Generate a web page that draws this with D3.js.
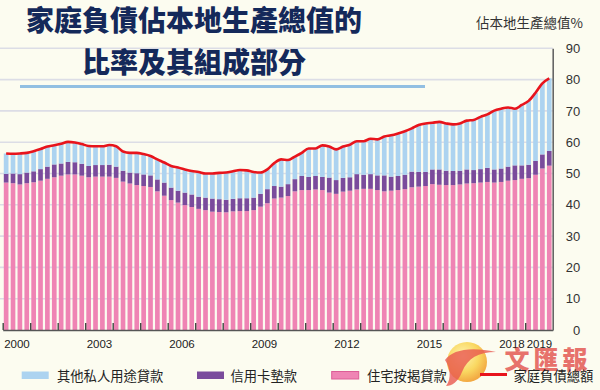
<!DOCTYPE html>
<html><head><meta charset="utf-8">
<script src="https://cdn.jsdelivr.net/npm/d3@7"></script>
<style>
html,body{margin:0;padding:0;background:#fcfcf0;}
svg{display:block;}
text{font-family:"Liberation Sans",Arial,sans-serif;}
.cjk{font-family:"Noto Sans CJK TC","Noto Sans CJK SC",sans-serif;}
</style></head>
<body>
<svg id="c" width="600" height="390"></svg>
<script>
// ---------- data ----------
const years = [2000,2001,2002,2003,2004,2005,2006,2007,2008,2009,2010,2011,2012,2013,2014,2015,2016,2017,2018,2019];
const quarterNames = ["Q1","Q2","Q3","Q4"];
const categories = years.flatMap(yr => quarterNames.map(q => yr + q));

// 住宅按揭貸款 (% of GDP)
const mortgage = [
 47.1,46.9,46.5,46.9, 47.2,47.7,48.3,48.8, 49.3,49.7,49.7,49.3, 48.8,49.0,49.0,49.0, 48.6,47.4,46.8,46.3,
 46.0,45.7,44.3,42.9, 41.5,40.7,39.9,39.3, 38.7,38.3,37.8,37.7, 37.6,37.9,38.0,38.0, 38.3,39.4,40.5,42.0,
 42.3,42.8,44.3,44.7, 44.7,44.9,44.7,43.9, 43.5,44.2,44.5,44.9, 45.1,45.1,44.7,44.3, 44.5,44.7,45.0,45.6,
 45.8,46.0,46.6,46.4, 46.3,46.3,46.5,46.8, 46.9,47.1,47.3,47.1, 47.3,47.7,47.9,48.3, 48.5,49.6,51.6,52.5
];
// 信用卡墊款
const creditCard = [
 2.8,3.1,3.3,3.4, 3.5,3.7,3.9,4.1, 3.9,4.0,3.9,3.8, 3.6,3.7,3.7,3.8, 3.6,3.5,3.5,3.8,
 3.7,3.7,3.8,4.2, 4.0,3.8,4.0,4.0, 3.9,4.0,4.2,4.1, 4.0,4.0,4.1,4.1, 4.0,4.1,4.5,4.0,
 3.5,3.8,3.9,4.5, 4.2,4.3,4.2,4.8, 4.4,4.4,4.3,4.9, 4.5,4.7,4.7,5.1, 4.5,4.5,4.6,5.0,
 4.7,4.5,4.7,4.9, 4.6,4.5,4.4,4.5, 4.2,4.3,4.5,4.2, 4.3,4.5,4.7,4.3, 4.3,4.4,4.5,4.7
];
// 其他私人用途貸款
const otherLoans = [
 6.5,6.3,6.6,6.3, 6.4,6.4,6.4,6.1, 6.3,6.4,6.3,6.3, 6.4,6.0,6.0,6.3, 6.5,6.1,6.3,6.5,
 6.5,6.2,6.4,6.4, 6.9,7.4,7.4,7.5, 7.9,7.7,8.0,8.4, 8.7,8.8,9.0,8.9, 8.2,6.8,6.3,7.3,
 8.7,7.7,7.2,7.4, 9.1,8.8,10.1,9.9, 9.8,10.0,10.4,10.5, 10.7,11.3,11.5,12.4, 13.2,13.6,13.9,13.8,
 15.0,15.5,14.9,15.2, 15.1,14.9,15.1,15.6, 16.0,16.7,17.1,18.8, 19.1,18.9,18.1,19.3, 20.4,21.8,22.7,23.2
];
// 家庭負債總額
const totalDebt = [
 56.4,56.3,56.4,56.6, 57.1,57.8,58.6,59.0, 59.5,60.1,59.9,59.4, 58.8,58.7,58.7,59.1, 58.7,57.0,56.6,56.6,
 56.2,55.6,54.5,53.5, 52.4,51.9,51.3,50.8, 50.5,50.0,50.0,50.2, 50.3,50.7,51.1,51.0, 50.5,50.3,51.3,53.3,
 54.5,54.3,55.4,56.6, 58.0,58.0,59.0,58.6, 57.7,58.6,59.2,60.3, 60.3,61.1,60.9,61.8, 62.2,62.8,63.5,64.4,
 65.5,66.0,66.2,66.5, 66.0,65.7,66.0,66.9, 67.1,68.1,68.9,70.1, 70.7,71.1,70.7,71.9, 73.2,75.8,78.8,80.4
];

const xLabelYears = [2000,2003,2006,2009,2012,2015,2018,2019];
const yTicks = [0,10,20,30,40,50,60,70,80,90];
const titleLines = ["家庭負債佔本地生產總值的","比率及其組成部分"];
const yTitle = "佔本地生產總值%";
const seriesKeys = ["mortgage","card","other"];
const seriesNames = {other:"其他私人用途貸款", card:"信用卡墊款", mortgage:"住宅按揭貸款", total:"家庭負債總額"};
const colors = {other:"#acd3f0", card:"#7a4b9c", mortgage:"#ef84b4", total:"#e8141c"};

// ---------- setup ----------
const svg = d3.select("#c");
const plotLeft = 2.7, plotRight = 552.7, plotTop = 48.3, plotBottom = 330;

const rows = categories.map((c,i) => ({cat:c, mortgage:mortgage[i], card:creditCard[i], other:otherLoans[i], total:totalDebt[i]}));

const x = d3.scaleBand().domain(categories).range([plotLeft,plotRight]).paddingInner(0.32).paddingOuter(0.16);
const xYear = d3.scaleLinear().domain([2000,2020]).range([plotLeft,plotRight]);
const y = d3.scaleLinear().domain([0,90]).range([plotBottom,plotTop]);

// background
svg.append("rect").attr("width",600).attr("height",390).attr("fill","#fcfcf0");

// gridlines
svg.append("g").selectAll("line").data(yTicks.filter(d=>d>0)).join("line")
  .attr("x1",0).attr("x2",plotRight).attr("y1",d=>y(d)).attr("y2",d=>y(d))
  .attr("stroke","#dcdde6").attr("stroke-width",1.6);

// title decorative rule
svg.append("line").attr("x1",20).attr("x2",425).attr("y1",86.5).attr("y2",86.5)
  .attr("stroke","#92bfe2").attr("stroke-width",3);

// title
svg.append("g").selectAll("text").data(titleLines).join("text")
  .attr("class","cjk").attr("x",194).attr("y",(d,i)=>31+i*42)
  .attr("text-anchor","middle").attr("font-size",28).attr("font-weight",900)
  .attr("fill","#14295a").text(d=>d);

// y title
svg.append("text").attr("class","cjk").attr("x",583).attr("y",28).attr("text-anchor","end")
  .attr("font-size",13.5).attr("fill","#333").text(yTitle);

// stacked bars
const stacked = d3.stack().keys(seriesKeys)(rows);
svg.append("g").selectAll("g").data(stacked).join("g")
  .attr("fill",d=>colors[d.key])
  .selectAll("rect").data(d=>d).join("rect")
  .attr("x",d=>x(d.data.cat)).attr("width",x.bandwidth())
  .attr("y",d=>y(d[1])).attr("height",d=>y(d[0])-y(d[1]));

// total line
const line = d3.line().x(d=>x(d.cat)+x.bandwidth()/2).y(d=>y(d.total)).curve(d3.curveMonotoneX);
svg.append("path").datum(rows).attr("d",line).attr("fill","none")
  .attr("stroke",colors.total).attr("stroke-width",2.6).attr("stroke-linejoin","round");

// x axis: baseline + inward year ticks
const xAxisG = svg.append("g").attr("transform",`translate(0,${plotBottom})`)
  .call(d3.axisBottom(xYear).tickValues(years).tickSizeInner(-7).tickSizeOuter(0).tickFormat(""));
xAxisG.select(".domain").attr("stroke","#555").attr("stroke-width",1.6);
xAxisG.selectAll(".tick line").attr("stroke","#3f4a40").attr("stroke-width",1.4);

// x labels centered in year
const xLab = svg.append("g").attr("transform",`translate(0,${plotBottom})`)
  .call(d3.axisBottom(xYear).tickValues(xLabelYears.map(d=>d+0.5)).tickSize(0).tickPadding(10).tickFormat(d=>Math.floor(d)));
xLab.select(".domain").remove();
xLab.selectAll("text").attr("font-size",11.5).attr("fill","#222").attr("font-family","Liberation Sans, Arial, sans-serif");

// y axis on right
const yAxisG = svg.append("g").attr("transform",`translate(${plotRight},0)`)
  .call(d3.axisRight(y).tickValues(yTicks).tickSize(0).tickPadding(0));
yAxisG.select(".domain").attr("stroke","#666").attr("stroke-width",1.6);
yAxisG.selectAll("text").attr("text-anchor","end").attr("x",27.5)
  .attr("font-size",13).attr("fill","#333").attr("font-family","Liberation Sans, Arial, sans-serif");

// watermark logo (behind legend)
const defs = svg.append("defs");
const rg = defs.append("radialGradient").attr("id","sun").attr("cx","40%").attr("cy","35%").attr("r","65%");
rg.append("stop").attr("offset","0%").attr("stop-color","#fff4b0");
rg.append("stop").attr("offset","60%").attr("stop-color","#f9d65a");
rg.append("stop").attr("offset","100%").attr("stop-color","#f2a53a");
svg.append("circle").attr("cx",467).attr("cy",362).attr("r",20).attr("fill","url(#sun)").attr("opacity",0.95);
svg.append("path").attr("d","M445,360 C452,350 470,346 496,352 C478,352 468,358 462,372 C458,382 452,386 446,386 C452,378 450,368 445,360 Z")
  .attr("fill","#e8574f").attr("opacity",0.8);
svg.append("text").attr("class","cjk").attr("x",548).attr("y",369).attr("text-anchor","middle")
  .attr("font-size",25).attr("font-weight",900).attr("fill","#e0453f").attr("opacity",0.75)
  .attr("letter-spacing",4).text("文匯報");

// legend
const legendItems = [
  {key:"other", x:21.7, tx:57},
  {key:"card", x:197, tx:230.5},
  {key:"mortgage", x:331.7, tx:367},
  {key:"total", x:480, tx:513.5}
];
const lg = svg.append("g");
legendItems.forEach(it => {
  if (it.key === "total") {
    lg.append("line").attr("x1",it.x).attr("x2",it.x+27).attr("y1",374.5).attr("y2",374.5)
      .attr("stroke",colors.total).attr("stroke-width",3);
  } else {
    lg.append("rect").attr("x",it.x).attr("y",371.5).attr("width",27).attr("height",7.5)
      .attr("fill",colors[it.key])
      .attr("stroke", it.key==="mortgage" ? "#dc5d97" : "none").attr("stroke-width",1);
  }
  lg.append("text").attr("class","cjk").attr("x",it.tx).attr("y",380.5)
    .attr("font-size",13.3).attr("fill","#222").text(seriesNames[it.key]);
});
</script>
</body></html>
